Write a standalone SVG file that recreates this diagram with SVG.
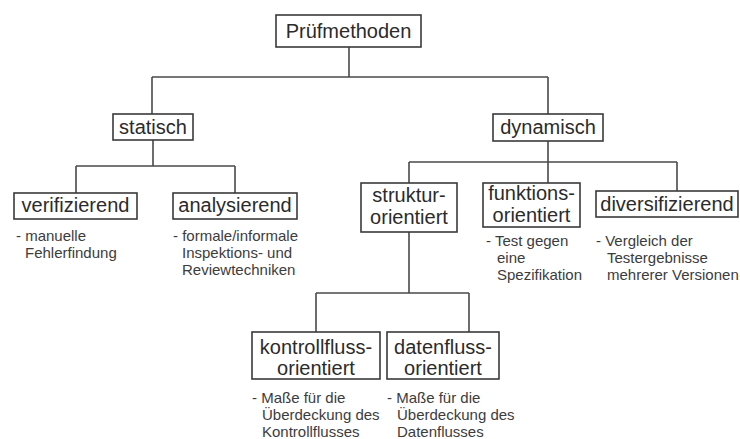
<svg xmlns="http://www.w3.org/2000/svg" width="740" height="439" viewBox="0 0 740 439">
  <style>
    .box { fill: #ffffff; stroke: #3a3a3a; stroke-width: 1.6; }
    .label { font-family: "Liberation Sans", Arial, sans-serif; font-size: 20px; fill: #2b2b2b; text-anchor: middle; }
    .note { font-family: "Liberation Sans", Arial, sans-serif; font-size: 15px; fill: #3c3c3c; }
    .wire { fill: none; stroke: #4a4a4a; stroke-width: 1.6; }
  </style>
  <rect width="740" height="439" fill="#ffffff"/>

  <g id="connectors">
    <path class="wire" d="M349,47 V77 M152,77 H548 M152,77 V114 M548,77 V114"/>
    <path class="wire" d="M153,140 V166 M76,166 H235 M76,166 V193 M235,166 V193"/>
    <path class="wire" d="M548,141 V162 M409,162 H677 M409,162 V183 M548,162 V183 M677,162 V191"/>
    <path class="wire" d="M409,232 V293 M316,293 H469 M316,293 V332 M469,293 V332"/>
  </g>

  <g id="pruefmethoden">
    <rect class="box" x="276" y="15" width="145" height="32"/>
    <text class="label" x="348.5" y="38">Prüfmethoden</text>
  </g>

  <g id="statisch">
    <rect class="box" x="113" y="114" width="80" height="26"/>
    <text class="label" x="153" y="134">statisch</text>
  </g>

  <g id="dynamisch">
    <rect class="box" x="493" y="114" width="110" height="27"/>
    <text class="label" x="548" y="134">dynamisch</text>
  </g>

  <g id="verifizierend">
    <rect class="box" x="14" y="193" width="123" height="26"/>
    <text class="label" x="75.5" y="212">verifizierend</text>
    <text class="note" x="16" y="241">- manuelle</text>
    <text class="note" x="25" y="258">Fehlerfindung</text>
  </g>

  <g id="analysierend">
    <rect class="box" x="173" y="193" width="124" height="26"/>
    <text class="label" x="235" y="212">analysierend</text>
    <text class="note" x="173" y="241">- formale/informale</text>
    <text class="note" x="182" y="258">Inspektions- und</text>
    <text class="note" x="182" y="275">Reviewtechniken</text>
  </g>

  <g id="strukturorientiert">
    <rect class="box" x="361" y="183" width="96" height="49"/>
    <text class="label" x="409" y="202">struktur-</text>
    <text class="label" x="409" y="224">orientiert</text>
  </g>

  <g id="funktionsorientiert">
    <rect class="box" x="483" y="183" width="97" height="44"/>
    <text class="label" x="531.5" y="200">funktions-</text>
    <text class="label" x="531.5" y="222">orientiert</text>
    <text class="note" x="486" y="246">- Test gegen</text>
    <text class="note" x="497" y="263">eine</text>
    <text class="note" x="497" y="280">Spezifikation</text>
  </g>

  <g id="diversifizierend">
    <rect class="box" x="596" y="191" width="142" height="26"/>
    <text class="label" x="667" y="211">diversifizierend</text>
    <text class="note" x="596" y="246">- Vergleich der</text>
    <text class="note" x="607" y="263">Testergebnisse</text>
    <text class="note" x="607" y="280">mehrerer Versionen</text>
  </g>

  <g id="kontrollflussorientiert">
    <rect class="box" x="252" y="332" width="128" height="47"/>
    <text class="label" x="316" y="354">kontrollfluss-</text>
    <text class="label" x="316" y="375">orientiert</text>
    <text class="note" x="252" y="403">- Maße für die</text>
    <text class="note" x="262" y="420">Überdeckung des</text>
    <text class="note" x="262" y="437">Kontrollflusses</text>
  </g>

  <g id="datenflussorientiert">
    <rect class="box" x="387" y="332" width="112" height="47"/>
    <text class="label" x="443" y="354">datenfluss-</text>
    <text class="label" x="443" y="375">orientiert</text>
    <text class="note" x="387" y="403">- Maße für die</text>
    <text class="note" x="397" y="420">Überdeckung des</text>
    <text class="note" x="397" y="437">Datenflusses</text>
  </g>
</svg>
